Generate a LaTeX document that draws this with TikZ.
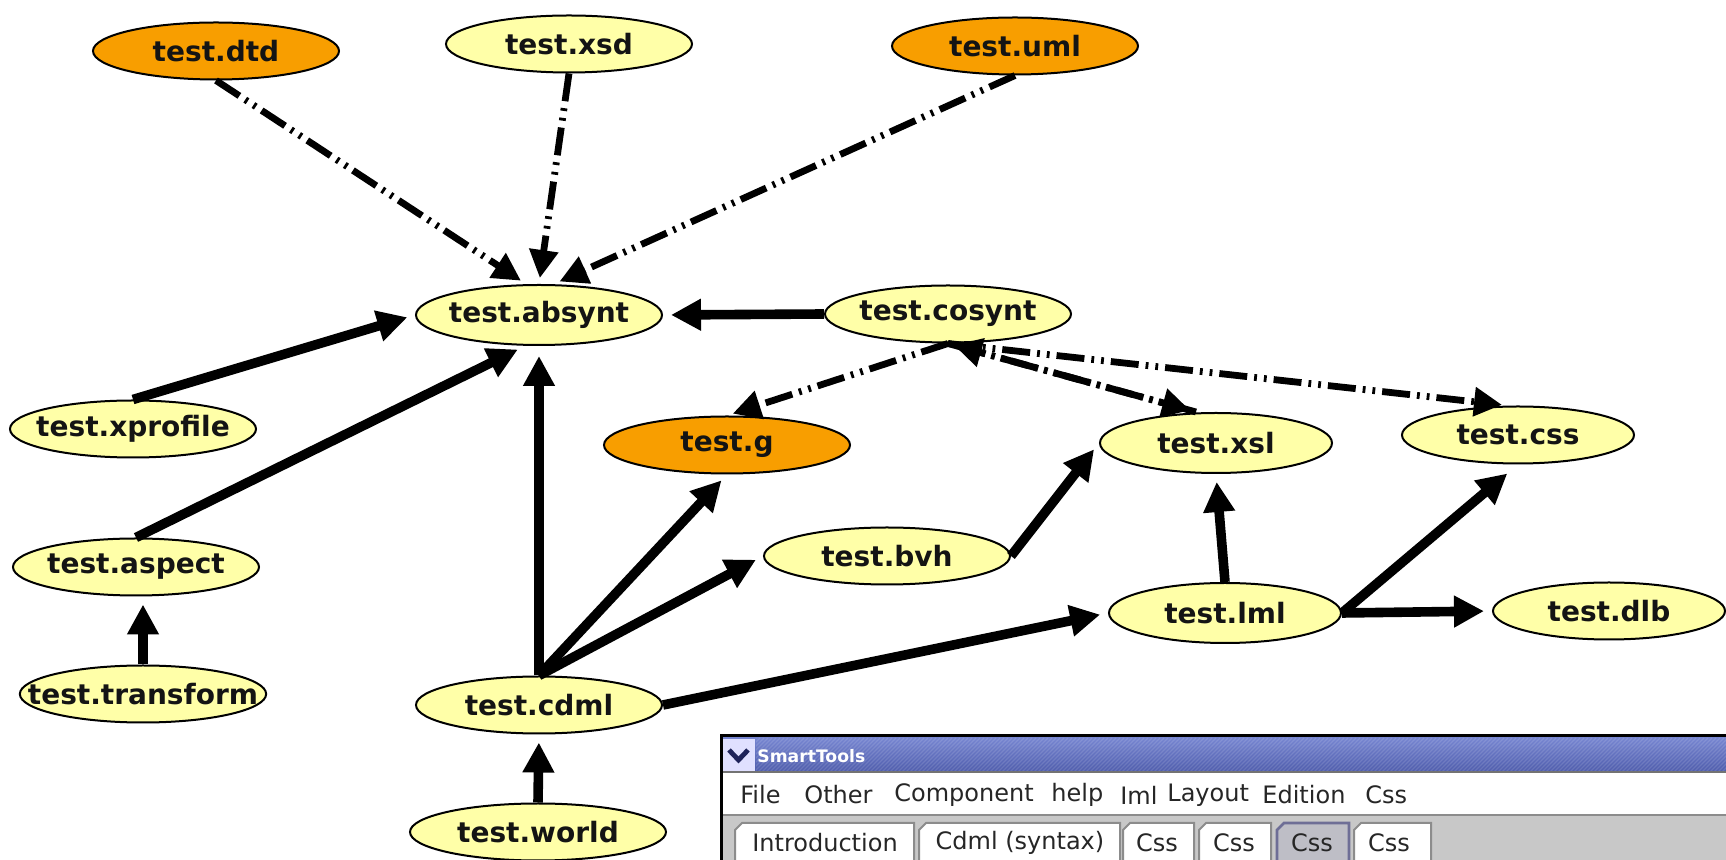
\documentclass[tikz,border=0pt]{standalone}
\usepackage{fontspec}
\setmainfont{DejaVu Sans}
\usetikzlibrary{shapes.geometric,arrows.meta,calc}

\definecolor{fileyellow}{RGB}{255,255,168}
\definecolor{fileorange}{RGB}{248,158,0}
\definecolor{bartop}{RGB}{118,133,208}
\definecolor{barbottom}{RGB}{78,92,172}
\definecolor{stripgray}{RGB}{200,200,200}
\definecolor{tabedge}{RGB}{140,140,140}
\definecolor{seltab}{RGB}{190,190,198}
\definecolor{seledge}{RGB}{110,110,150}
\definecolor{chevnavy}{RGB}{30,35,90}

\tikzset{
  file/.style={ellipse, draw=black, line width=1pt, fill=fileyellow,
    minimum width=123pt, minimum height=28.5pt,
    inner ysep=0pt, inner xsep=-14pt,
    font=\bfseries\fontsize{14}{14}\selectfont, text=black!92},
  gen/.style={file, fill=fileorange},
  narrowfile/.style={minimum width=116pt},
  use/.style={line width=4.8pt, -{Triangle[length=15pt,width=15pt]},
    shorten >=4pt},
  dep/.style={line width=3.4pt,
    dash pattern=on 14pt off 3.5pt on 1.4pt off 3.5pt on 1.4pt off 3.5pt,
    -{Triangle[length=14pt,width=14pt]}, shorten >=3pt},
  menuitem/.style={anchor=west, inner sep=0pt, text=black!85,
    font=\fontsize{12}{12}\selectfont},
  tablabel/.style={inner sep=0pt, text=black!85,
    font=\fontsize{12}{12}\selectfont},
}

\begin{document}
\begin{tikzpicture}[x=0.5pt,y=-0.5pt]
\useasboundingbox (0,0) rectangle (1726,860);
\fill[white] (0,0) rectangle (1726,860);

% ---------- files ----------
\node[gen]  (dtd)       at (216,51)   {test.dtd};
\node[file] (xsd)       at (569,44)   {test.xsd};
\node[gen]  (uml)       at (1015,46)  {test.uml};
\node[file, minimum height=30pt] (absynt) at (539,315) {test.absynt};
\node[file] (cosynt)    at (948,314)  {test.cosynt};
\node[file] (xprofile)  at (133,429)  {test.xprofile};
\node[gen]  (g)         at (727,445)  {test.g};
\node[file, narrowfile, minimum height=30pt] (xsl) at (1216,443) {test.xsl};
\node[file, narrowfile] (css) at (1518,435) {test.css};
\node[file] (aspect)    at (136,567)  {test.aspect};
\node[file] (bvh)       at (887,556)  {test.bvh};
\node[file, narrowfile, minimum height=30pt] (lml) at (1225,613) {test.lml};
\node[file, narrowfile] (dlb) at (1609,611) {test.dlb};
\node[file] (transform) at (143,694)  {test.transform};
\node[file] (cdml)      at (539,705)  {test.cdml};
\node[file, minimum width=128pt] (world) at (538,832) {test.world};

% ---------- dependencies (dash-dot-dot) ----------
\draw[dep] (dtd.south) -- ($(absynt.north)+(-13,0)$);
\draw[dep] (xsd.south) -- (absynt.north);
\draw[dep] (uml.south) -- ($(absynt.north)+(15,0)$);
\draw[dep] (cosynt.south) -- (g.north);
\draw[dep] (cosynt.south) -- ($(xsl.north)+(-20,0)$);
\draw[dep] ($(xsl.north)+(-20,0)$) -- (cosynt.south);
\draw[dep] (cosynt.south) -- ($(css.north)+(-10,0)$);

% ---------- uses (solid) ----------
\draw[use] (cosynt.west) -- (absynt.east);
\draw[use] (xprofile.north) -- (absynt.west);
\draw[use] (aspect.north) -- ($(absynt.south)+(-14,0)$);
\draw[use, shorten >=5pt] (cdml.north) -- (absynt.south);
\draw[use] (cdml.north) -- (g.south);
\draw[use] (cdml.north) -- (bvh.west);
\draw[use] (cdml.east) -- (lml.west);
\draw[use] (bvh.east) -- (xsl.west);
\draw[use] (lml.north) -- (xsl.south);
\draw[use, shorten >=7pt] (lml.east) -- (css.south);
\draw[use] (lml.east) -- (dlb.west);
\draw[use] (transform.north) -- (transform.north |- aspect.south);
\draw[use] (world.north) -- (cdml.south);

% ---------- SmartTools window ----------
\fill[white] (721,735) rectangle (1726,860);
% title bar
\shade[top color=bartop, bottom color=barbottom] (721,738) rectangle (1726,772);
\begin{scope}
  \clip (756,738) rectangle (1726,772);
  \foreach \i in {756,760,...,1764}
    \draw[white, opacity=0.13, line width=0.6pt] (\i,738) -- (\i-34,772);
\end{scope}
\fill[white!88!blue] (722,739) rectangle (755,771);
\draw[chevnavy, line width=2.4pt, line join=miter]
  (729,750) -- (738.5,760) -- (748,750);
\node[anchor=west, inner sep=0pt, text=white,
      font=\bfseries\fontsize{8.6}{9}\selectfont] (wtitle) at (757,756) {SmartTools};
\draw[black!55, line width=1pt] (721,772.5) -- (1726,772.5);
% outer frame
\draw[black, line width=1.4pt] (721.7,860) -- (721.7,735.7) -- (1726,735.7);

% menu bar
\node[menuitem] (mfile)  at (740,795)  {File};
\node[menuitem] (mother) at (804,795)  {Other};
\node[menuitem] (mcomp)  at (894,795)  {Component};
\node[menuitem] (mhelp)  at (1051,795) {help};
\node[menuitem] (miml)   at (1120,795) {Iml};
\node[menuitem] (mlay)   at (1167,795) {Layout};
\node[menuitem] (medit)  at (1262,795) {Edition};
\node[menuitem] (mcss)   at (1365,795) {Css};

% tab strip
\fill[stripgray] (723,816) rectangle (1726,860);
\draw[black!45, line width=1pt] (723,815.5) -- (1726,815.5);
\foreach \a/\b in {735/914, 919/1120, 1123/1194, 1199/1271, 1354/1431}
  \draw[tabedge, fill=white, line width=1pt]
    (\a,860) -- (\a,830) -- (\a+7,823) -- (\b,823) -- (\b,860);
\draw[seledge, fill=seltab, line width=1.4pt]
  (1277,860) -- (1277,830) -- (1284,823) -- (1349,823) -- (1349,860);
\node[tablabel] (tintro) at (825,843)  {Introduction};
\node[tablabel] (tcdml)  at (1020,843) {Cdml (syntax)};
\node[tablabel] (tcssa)  at (1157,843) {Css};
\node[tablabel] (tcssb)  at (1234,843) {Css};
\node[tablabel] (tcssc)  at (1312,843) {Css};
\node[tablabel] (tcssd)  at (1389,843) {Css};
\end{tikzpicture}
\end{document}
